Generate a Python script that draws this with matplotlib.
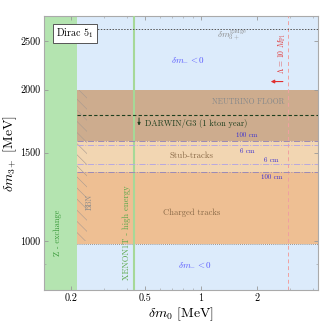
import matplotlib
matplotlib.use("Agg")
import matplotlib.pyplot as plt
from matplotlib.ticker import FixedLocator, FixedFormatter, NullFormatter, LogLocator

plt.rcParams['font.family'] = ['cmr10', 'DejaVu Serif']
plt.rcParams['mathtext.fontset'] = 'cm'
plt.rcParams['axes.formatter.use_mathtext'] = True
plt.rcParams['hatch.linewidth'] = 0.4

# ---- data ----
x_limits = [0.143, 4.26]
y_limits = [800, 2800]
z_exchange_max = 0.215
bbn_x_max = 0.245
bbn_y_range = [1000, 2000]
xenon_x = 0.438
lambda_x = 2.94
neutrino_floor = [1585, 2000]
stub_tracks = [1373, 1585]
charged_tracks = [990, 1373]
darwin_y = 1780
gauge_y = 2635
decay_lines = [1585, 1553, 1423, 1373]
decay_labels = ['100 cm', '6 cm', '6 cm', '100 cm']
x_ticks = [0.2, 0.5, 1, 2]
x_tick_labels = ['0.2', '0.5', '1', '2']
y_ticks = [1000, 1500, 2000, 2500]
y_tick_labels = ['1000', '1500', '2000', '2500']

fig = plt.figure(figsize=(3.21, 3.26), dpi=100)
ax = fig.add_axes([0.137, 0.110, 0.854, 0.841])
ax.set_xscale('log')
ax.set_yscale('log')
ax.set_xlim(*x_limits)
ax.set_ylim(*y_limits)

blue = '#dcebfb'
green = '#b4e4b0'
brown = '#cdac8e'
light_orange = '#f2d6b2'
orange = '#eebf93'

ax.axvspan(z_exchange_max, x_limits[1], color=blue, lw=0, zorder=0)
ax.axvspan(x_limits[0], z_exchange_max, color=green, lw=0, zorder=1)
ax.fill_between([z_exchange_max, x_limits[1]], neutrino_floor[0], neutrino_floor[1], color=brown, lw=0, zorder=1)
ax.fill_between([z_exchange_max, x_limits[1]], stub_tracks[0], stub_tracks[1], color=light_orange, lw=0, zorder=1)
ax.fill_between([z_exchange_max, x_limits[1]], charged_tracks[0], charged_tracks[1], color=orange, lw=0, zorder=1)
ax.plot([z_exchange_max, x_limits[1]], [charged_tracks[0]] * 2, color='#8a7a6a', ls=(0, (1, 1.5)), lw=0.6, zorder=2)

# BBN hatch
ax.fill_between([z_exchange_max, bbn_x_max], bbn_y_range[0], bbn_y_range[1], facecolor='none',
                edgecolor='#a89a90', hatch='\\\\\\', lw=0, zorder=2)

# lines
ax.axvline(xenon_x, color='#a6d898', lw=1.5, zorder=3)
ax.axvline(lambda_x, color='#f0a0a0', lw=0.7, ls=(0, (4, 3)), zorder=3)
ax.plot([z_exchange_max, x_limits[1]], [darwin_y] * 2, color='#1f3f1f', lw=0.8, ls=(0, (3, 2)), zorder=3)
ax.plot([z_exchange_max, x_limits[1]], [gauge_y] * 2, color='#555555', lw=0.7, ls=(0, (1.5, 1.5)), zorder=3)
decay_colors = ['#9a8ab8', '#b8a8e0', '#b8a8e0', '#9a8ab8']
for yv, c in zip(decay_lines, decay_colors):
    ax.plot([z_exchange_max, x_limits[1]], [yv] * 2, color=c, lw=0.7, ls='-.', zorder=3)

decay_pos = [(1.77, 1627), (1.77, 1511), (2.38, 1450), (2.41, 1341)]
for (xx, yy), lab in zip(decay_pos, decay_labels):
    ax.text(xx, yy, lab, color='#3a2fd0', fontsize=5, ha='center', va='center', zorder=4)

# texts
ax.text(0.851, 2296, r'$\delta m_{-} < 0$', color='#5a5aff', fontsize=6.5, ha='center', va='center')
ax.text(0.929, 899, r'$\delta m_{-} < 0$', color='#5a5aff', fontsize=6.5, ha='center', va='center')
ax.text(1.47, 2560, r'$\delta m_{3+}^{\mathrm{gauge}}$', color='#8a8a8a', fontsize=6.5, ha='center', va='center')
ax.text(2.72, 2360, r'$\Lambda\,=\,10\ M_{\mathrm{Pl}}$', color='#e03030', fontsize=5.5, ha='center', va='center', rotation=90)
ax.annotate('', xy=(2.29, 2075), xytext=(2.85, 2075),
            arrowprops=dict(arrowstyle='-|>', color='#e03030', lw=0.8, mutation_scale=5))
ax.text(1.79, 1892, 'NEUTRINO FLOOR', color='#8a8a8a', fontsize=5.6, ha='center', va='center')
ax.annotate('', xy=(0.464, 1675), xytext=(0.464, darwin_y),
            arrowprops=dict(arrowstyle='-|>', color='#1f3f1f', lw=0.7, mutation_scale=4))
ax.text(0.50, 1710, 'DARWIN/G3 (1 kton year)', color='#1f3f1f', fontsize=6, ha='left', va='center')
ax.text(0.884, 1477, 'Stub-tracks', color='#8a6a48', fontsize=6.3, ha='center', va='center')
ax.text(0.895, 1141, 'Charged tracks', color='#8a6a48', fontsize=6.2, ha='center', va='center')
ax.text(0.170, 1041, 'Z - exchange', color='#3a9a3a', fontsize=6, ha='center', va='center', rotation=90)
ax.text(0.40, 1041, 'XENON1T - high energy', color='#5aa84a', fontsize=6.2, ha='center', va='center', rotation=90)
ax.text(0.25, 1195, 'BBN', color='#8a8a8a', fontsize=5.5, ha='center', va='center', rotation=90)
ax.text(0.045, 0.936, r'Dirac $5_1$', transform=ax.transAxes, fontsize=7.2, ha='left', va='center',
        bbox=dict(boxstyle='square,pad=0.3', fc='white', ec='#555555', lw=0.7), zorder=6)

# axes styling
for s in ax.spines.values():
    s.set_color('#aaaaaa')
    s.set_linewidth(0.8)
ax.xaxis.set_major_locator(FixedLocator(x_ticks))
ax.xaxis.set_major_formatter(FixedFormatter(x_tick_labels))
ax.xaxis.set_minor_locator(LogLocator(base=10, subs=range(1, 10)))
ax.xaxis.set_minor_formatter(NullFormatter())
ax.yaxis.set_major_locator(FixedLocator(y_ticks))
ax.yaxis.set_major_formatter(FixedFormatter(y_tick_labels))
ax.yaxis.set_minor_locator(LogLocator(base=10, subs=range(1, 10), numticks=20))
ax.yaxis.set_minor_formatter(NullFormatter())
ax.tick_params(which='both', direction='in', top=True, right=True, color='#999999', labelsize=7.3)
ax.tick_params(which='major', length=3, width=0.6, pad=2.5)
ax.tick_params(which='minor', length=1.5, width=0.4)
ax.set_xlabel(r'$\delta m_0$ [MeV]', fontsize=10, labelpad=2)
ax.set_ylabel(r'$\delta m_{3+}$ [MeV]', fontsize=10, labelpad=1)

fig.savefig('out.png', dpi=100)
